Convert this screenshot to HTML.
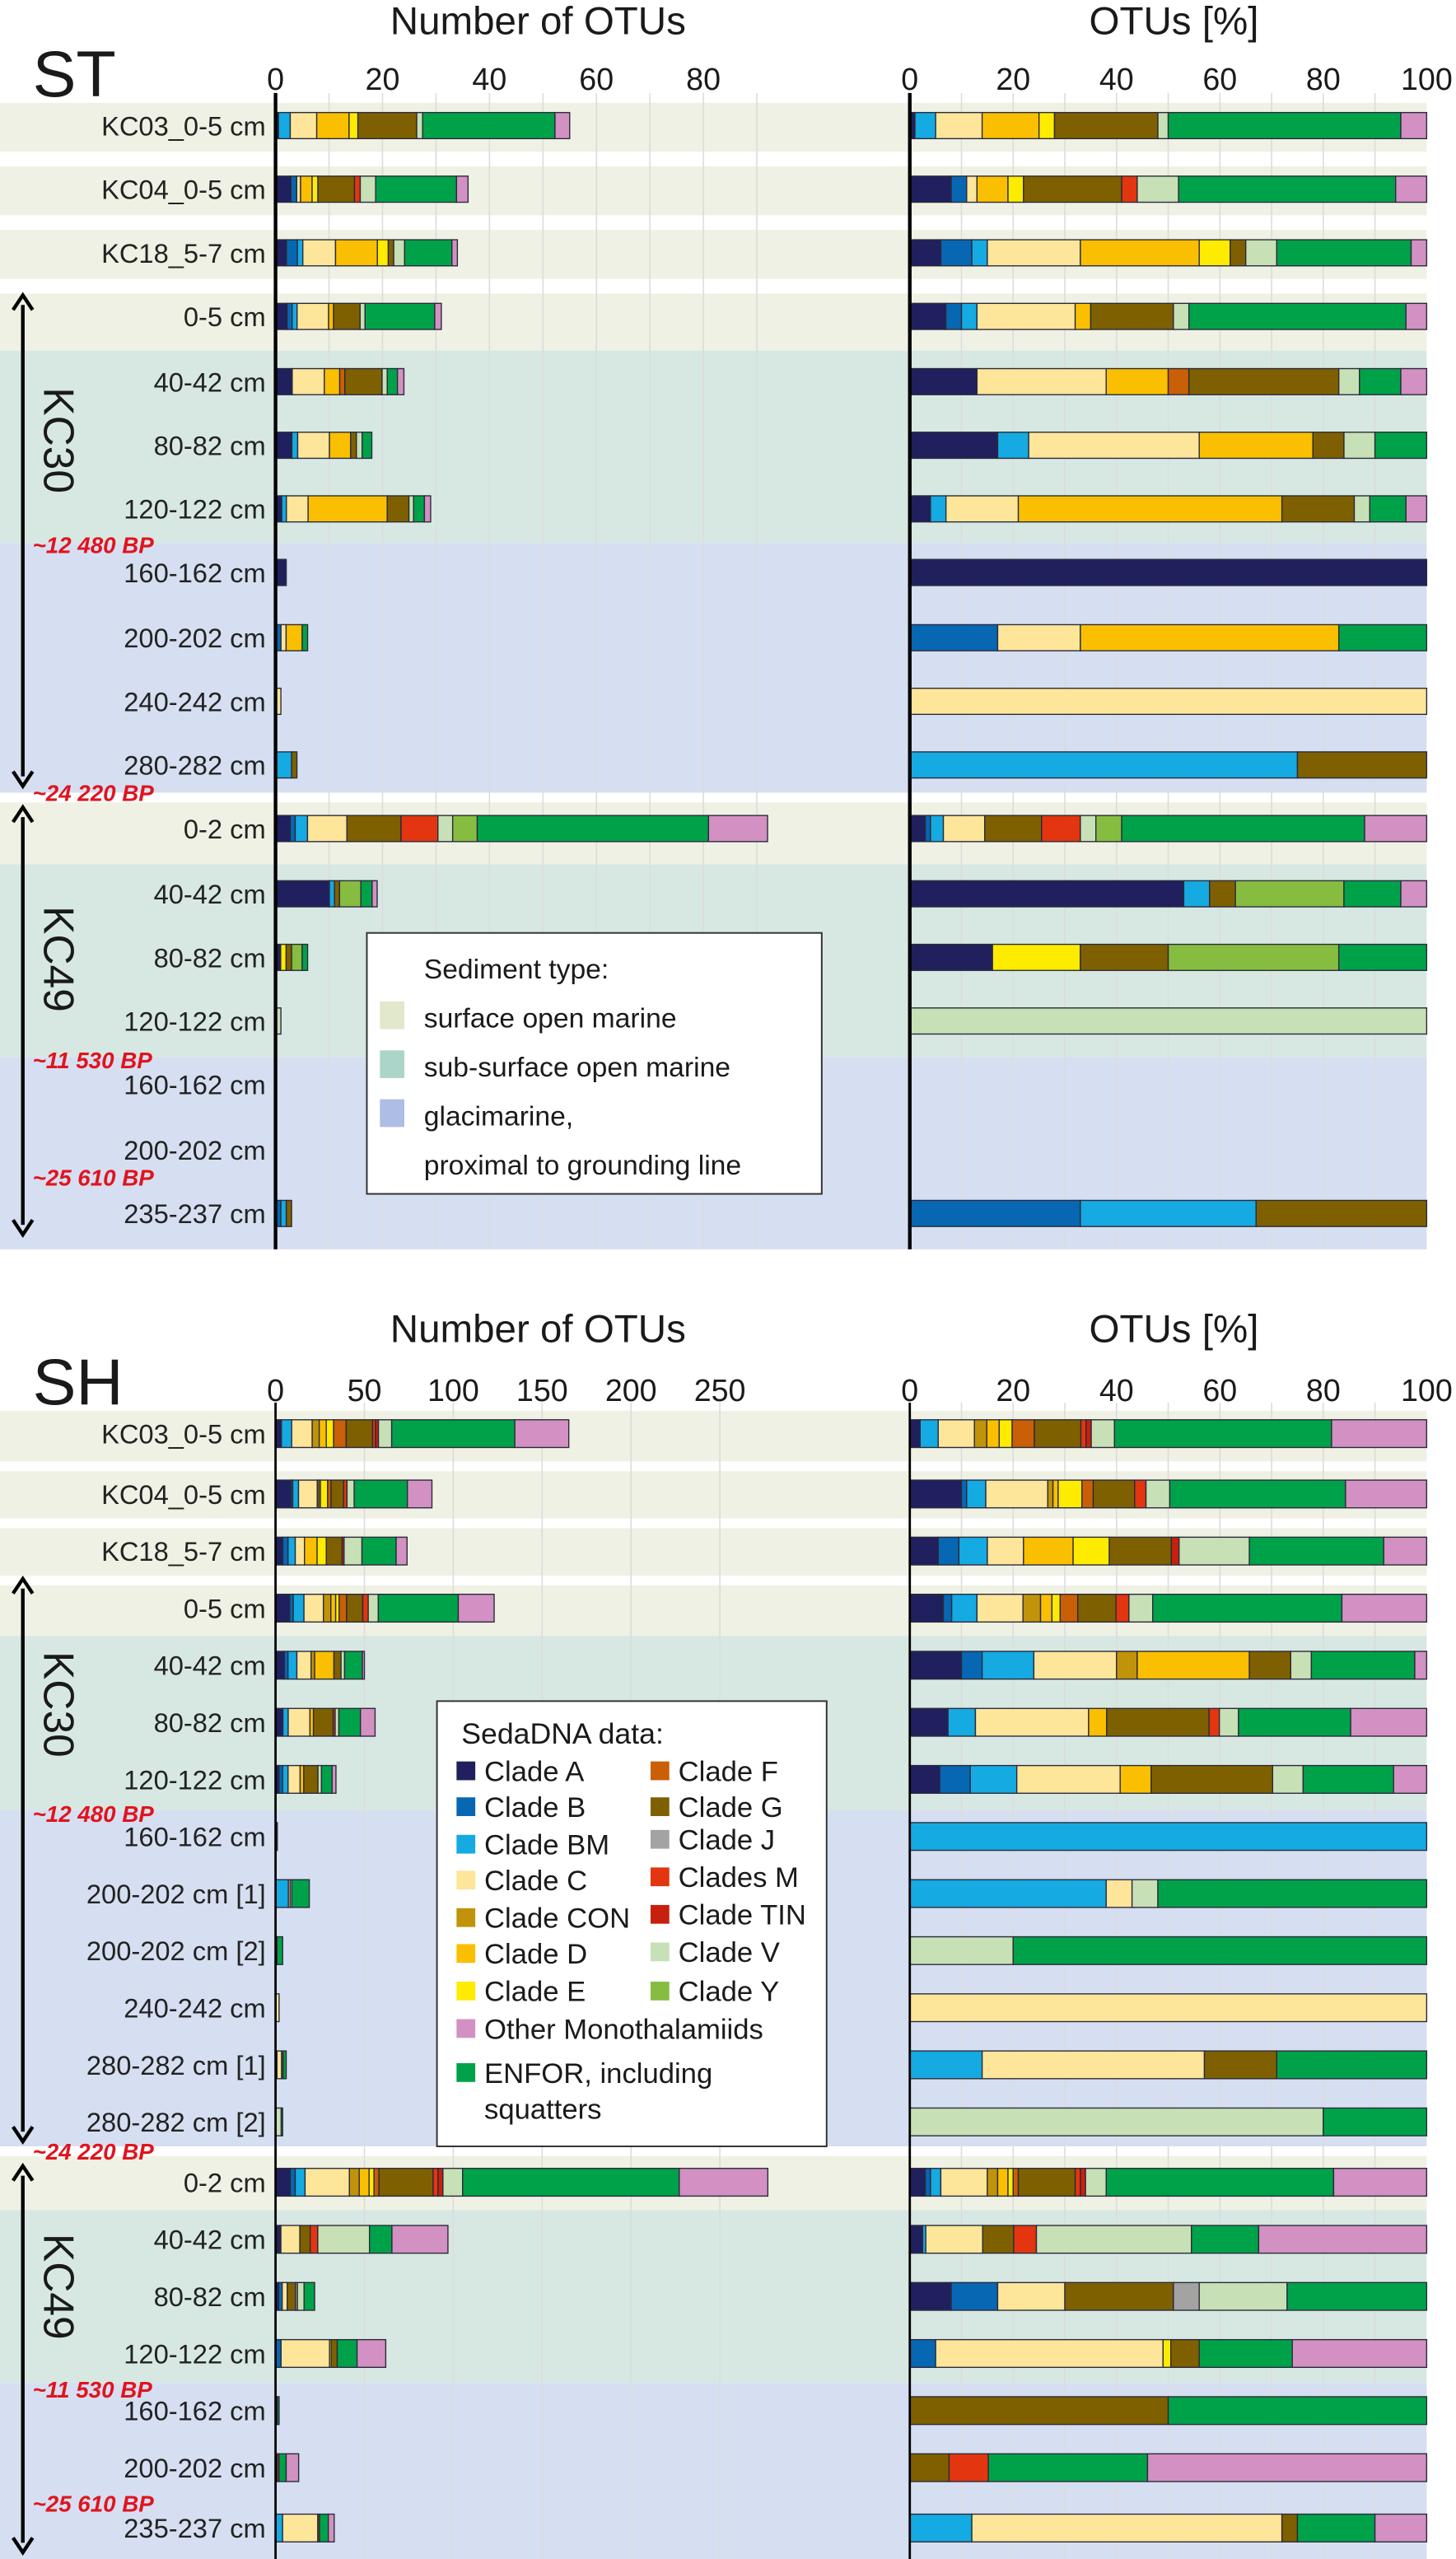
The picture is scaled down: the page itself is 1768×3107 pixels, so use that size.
<!DOCTYPE html>
<html><head><meta charset="utf-8"><style>
html,body{margin:0;padding:0;background:#fff;}
svg{display:block;font-family:"Liberation Sans",sans-serif;}
</style></head>
<body>
<svg id="fig" xmlns="http://www.w3.org/2000/svg" width="1768" height="3107" viewBox="0 0 893 1569" preserveAspectRatio="none"></svg>
<script>
// ---------- data ----------
const cladeKeys = ['A','B','BM','C','CON','D','E','F','G','J','M','TIN','V','Y','ENFOR','OTH'];
const cladeColors = {A:'#20205e',B:'#0767b2',BM:'#15aae2',C:'#fde59a',CON:'#c1930a',D:'#fabf00',E:'#fdeb00',F:'#c95f06',G:'#7f6000',J:'#a3a3a3',M:'#e3350f',TIN:'#c8200e',V:'#c7e0b6',Y:'#86bd40',ENFOR:'#00a249',OTH:'#d291c2'};

const stLabels = ['KC03_0-5 cm','KC04_0-5 cm','KC18_5-7 cm','0-5 cm','40-42 cm','80-82 cm','120-122 cm','160-162 cm','200-202 cm','240-242 cm','280-282 cm','0-2 cm','40-42 cm','80-82 cm','120-122 cm','160-162 cm','200-202 cm','235-237 cm'];
const stTotals = [55,36,34,31,24,18,29,2,6,1,4,92,19,6,1,0,0,3];
const stPercents = [
 [['A',1],['BM',4],['C',9],['D',11],['E',3],['G',20],['V',2],['ENFOR',45],['OTH',5]],
 [['A',8],['B',3],['C',2],['D',6],['E',3],['G',19],['M',3],['V',8],['ENFOR',42],['OTH',6]],
 [['A',6],['B',6],['BM',3],['C',18],['D',23],['E',6],['G',3],['V',6],['ENFOR',26],['OTH',3]],
 [['A',7],['B',3],['BM',3],['C',19],['D',3],['G',16],['V',3],['ENFOR',42],['OTH',4]],
 [['A',13],['C',25],['D',12],['F',4],['G',29],['V',4],['ENFOR',8],['OTH',5]],
 [['A',17],['BM',6],['C',33],['D',22],['G',6],['V',6],['ENFOR',10]],
 [['A',4],['BM',3],['C',14],['D',51],['G',14],['V',3],['ENFOR',7],['OTH',4]],
 [['A',100]],
 [['B',17],['C',16],['D',50],['ENFOR',17]],
 [['C',100]],
 [['BM',75],['G',25]],
 [['A',3],['B',1],['BM',2.5],['C',8],['G',11],['M',7.5],['V',3],['Y',5],['ENFOR',47],['OTH',12]],
 [['A',53],['BM',5],['G',5],['Y',21],['ENFOR',11],['OTH',5]],
 [['A',16],['E',17],['G',17],['Y',33],['ENFOR',17]],
 [['V',100]],
 [],
 [],
 [['B',33],['BM',34],['G',33]]
];

const shLabels = ['KC03_0-5 cm','KC04_0-5 cm','KC18_5-7 cm','0-5 cm','40-42 cm','80-82 cm','120-122 cm','160-162 cm','200-202 cm [1]','200-202 cm [2]','240-242 cm','280-282 cm [1]','280-282 cm [2]','0-2 cm','40-42 cm','80-82 cm','120-122 cm','160-162 cm','200-202 cm','235-237 cm'];
const shTotals = [165,88,74,123,50,56,34,1,19,4,2,6,4,277,97,22,62,2,13,33];
const shPercents = [
 [['A',2],['BM',3.5],['C',7],['CON',2.4],['D',2.4],['E',2.5],['F',4.3],['G',9],['M',1],['TIN',1],['V',4.5],['ENFOR',42],['OTH',18.4]],
 [['A',10],['B',1],['BM',3.7],['C',12],['CON',1],['D',1],['E',4.6],['F',2.2],['G',8],['M',2.2],['V',4.6],['ENFOR',34],['OTH',15.7]],
 [['A',5.5],['B',4],['BM',5.5],['C',7],['D',9.6],['E',7],['G',12],['TIN',1.5],['V',13.6],['ENFOR',26],['OTH',8.3]],
 [['A',6.5],['B',1.6],['BM',4.9],['C',8.9],['CON',3.4],['D',2.2],['E',1.6],['F',3.4],['G',7.4],['M',2.5],['V',4.6],['ENFOR',36.6],['OTH',16.4]],
 [['A',10],['B',4],['BM',10],['C',16],['CON',4],['D',21.7],['G',8],['V',4],['ENFOR',20],['OTH',2.3]],
 [['A',7.4],['BM',5.3],['C',21.9],['D',3.5],['G',19.8],['M',2],['V',3.7],['ENFOR',21.7],['OTH',14.7]],
 [['A',5.8],['B',5.9],['BM',9],['C',20],['D',6],['G',23.5],['V',5.9],['ENFOR',17.5],['OTH',6.4]],
 [['BM',100]],
 [['BM',38],['C',5],['V',5],['ENFOR',52]],
 [['V',20],['ENFOR',80]],
 [['C',100]],
 [['BM',14],['C',43],['G',14],['ENFOR',29]],
 [['V',80],['ENFOR',20]],
 [['A',3],['B',1],['BM',2],['C',9],['CON',2],['D',2],['E',1],['F',1],['G',11],['M',1],['TIN',1],['V',4],['ENFOR',44],['OTH',18]],
 [['A',2.5],['BM',0.6],['C',11],['G',6],['M',4.4],['V',30],['ENFOR',13],['OTH',32.5]],
 [['A',8],['B',9],['C',13],['G',21],['J',5],['V',17],['ENFOR',27]],
 [['B',5],['C',44],['E',1.5],['G',5.5],['ENFOR',18],['OTH',26]],
 [['G',50],['ENFOR',50]],
 [['G',7.6],['M',7.6],['ENFOR',30.8],['OTH',54]],
 [['BM',12],['C',60],['G',3],['ENFOR',15],['OTH',10]]
];
const stCountTicks = [0,20,40,60,80];
const shCountTicks = [0,50,100,150,200,250];
const pctTicks = [0,20,40,60,80,100];

// ---------- layout ----------
const NS='http://www.w3.org/2000/svg';
const svg=document.getElementById('fig');
function el(tag,attrs,parent){const e=document.createElementNS(NS,tag);for(const k in attrs)e.setAttribute(k,attrs[k]);(parent||svg).appendChild(e);return e;}
function txt(s,attrs,parent){const e=el('text',attrs,parent);e.textContent=s;return e;}

const X0=169, P0=558, P100=875;
const stYs=[77,116,155,194,234,273,312,351,391,430,469,508,548,587,626,665,705,744];
const shYs=[879,916,951,986,1021,1056,1091,1126,1161,1196,1231,1266,1301,1338,1373,1408,1443,1478,1513,1550];

function panel(p){
  const g=el('g',{});
  
  
  const cx=v=>X0+v*p.scale;
  const px=v=>P0+v*(P100-P0)/100;
  p.bands.forEach(b=>{
    const r=el('rect',{x:0,y:b[0],width:P100,height:b[1]-b[0],fill:b[2]},g);
    
    
  });
  for(let v=p.gridStep;v<=p.gridMax;v+=p.gridStep){
    const l=el('line',{x1:cx(v),x2:cx(v),y1:p.axTop,y2:p.axBot,stroke:'#dcdcdc','stroke-width':0.8},g);
    
    
  }
  for(let v=10;v<100;v+=10){
    const l=el('line',{x1:px(v),x2:px(v),y1:p.axTop,y2:p.axBot,stroke:'#dcdcdc','stroke-width':0.8},g);
    
    
  }
  const t1=txt('Number of OTUs',{x:330,y:p.titleY,'font-size':24,'text-anchor':'middle',fill:'#1a1a1a'},g);
  
  
  const t2=txt('OTUs [%]',{x:720,y:p.titleY,'font-size':24,'text-anchor':'middle',fill:'#1a1a1a'},g);
  
  
  const t3=txt(p.name.toUpperCase(),{x:20,y:p.titleY+38,'font-size':40,fill:'#1a1a1a'},g);
  
  
  p.countTicks.forEach(v=>{
    const t=txt(String(v),{x:cx(v),y:p.tickY,'font-size':19,'text-anchor':'middle',fill:'#1a1a1a'},g);
    
    
  });
  pctTicks.forEach(v=>{
    const t=txt(String(v),{x:px(v),y:p.tickY,'font-size':19,'text-anchor':'middle',fill:'#1a1a1a'},g);
    
    
  });
  const bh=p.barH;
  p.labels.forEach((lab,i)=>{
    const y=p.ys[i];
    const t=txt(lab,{x:163,y:y+6,'font-size':16.5,'text-anchor':'end',fill:'#222'},g);
    
    
    const segs=p.percents[i];
    const sum=segs.reduce((a,s)=>a+s[1],0)||1;
    let acc=0;
    segs.forEach(s=>{
      const f0=acc/sum, f1=(acc+s[1])/sum; acc+=s[1];
      const c=cladeColors[s[0]];
      const r1=el('rect',{x:cx(p.totals[i]*f0),y:y-bh/2,width:Math.max(0,cx(p.totals[i]*f1)-cx(p.totals[i]*f0)),height:bh,fill:c,stroke:'#2a2a3a','stroke-width':0.7},g);
      
      
      const r2=el('rect',{x:px(100*f0),y:y-bh/2,width:px(100*f1)-px(100*f0),height:bh,fill:c,stroke:'#2a2a3a','stroke-width':0.7},g);
      
      
    });
  });
  const a1=el('line',{x1:X0,x2:X0,y1:p.axTop,y2:p.axBot,stroke:'#000','stroke-width':p.axW},g);
  
  
  const a2=el('line',{x1:P0,x2:P0,y1:p.axTop,y2:p.axBot,stroke:'#000','stroke-width':p.axW},g);
  
  
  p.cores.forEach(c=>{
    const ln=el('line',{x1:14,x2:14,y1:c.y1+6,y2:c.y2-6,stroke:'#000','stroke-width':2.2},g);
    
    
    const h1=el('path',{d:`M8,${c.y1+9} L14,${c.y1} L20,${c.y1+9}`,fill:'none',stroke:'#000','stroke-width':2.2},g);
    
    
    const h2=el('path',{d:`M8,${c.y2-9} L14,${c.y2} L20,${c.y2-9}`,fill:'none',stroke:'#000','stroke-width':2.2},g);
    
    
    const ct=txt(c.name,{x:0,y:0,'font-size':26,fill:'#1a1a1a','text-anchor':'middle',transform:`translate(27,${c.ly}) rotate(90)`},g);
    
    
    c.bp.forEach(b=>{
      const bt=txt(b[0],{x:20,y:b[1],'font-size':14,'font-weight':'bold','font-style':'italic',fill:'#e0141e'},g);
      
      
    });
  });
  return g;
}

const BE='#eff1e4', TE='#d7e8e3', BL='#d6dff1';
panel({name:'st',scale:3.28,gridStep:10,gridMax:90,axTop:57,axBot:766,axW:2.2,titleY:21,tickY:55,barH:16,
  labels:stLabels,totals:stTotals,percents:stPercents,ys:stYs,countTicks:stCountTicks,
  bands:[[63,93,BE],[102,132,BE],[141,171,BE],[180,215,BE],[215,333,TE],[333,486,BL],[492,530,BE],[530,648,TE],[648,766,BL]],
  cores:[{name:'KC30',y1:181,y2:482,ly:270,bp:[['~12 480 BP',339],['~24 220 BP',491]]},
         {name:'KC49',y1:495,y2:757,ly:588,bp:[['~11 530 BP',655],['~25 610 BP',727]]}]});
panel({name:'sh',scale:1.09,gridStep:50,gridMax:250,axTop:860,axBot:1569,axW:1.4,titleY:823,tickY:859,barH:17,
  labels:shLabels,totals:shTotals,percents:shPercents,ys:shYs,countTicks:shCountTicks,
  bands:[[865,896,BE],[902,931,BE],[937,966,BE],[972,1003,BE],[1003,1110,TE],[1110,1316,BL],[1322,1355,BE],[1355,1461,TE],[1461,1569,BL]],
  cores:[{name:'KC30',y1:968,y2:1313,ly:1045,bp:[['~12 480 BP',1117],['~24 220 BP',1324]]},
         {name:'KC49',y1:1328,y2:1565,ly:1402,bp:[['~11 530 BP',1470],['~25 610 BP',1540]]}]});

// ---------- legends ----------
const sedLegend=el('g',{});


el('rect',{x:225,y:572,width:279,height:160,fill:'#fff',stroke:'#333','stroke-width':1},sedLegend);
txt('Sediment type:',{x:260,y:600,'font-size':17,fill:'#1a1a1a'},sedLegend);
const sedItems=[['surface open marine','#e1e8cb',630],['sub-surface open marine','#acd5c9',660],['glacimarine,','#aebde6',690]];
sedItems.forEach(s=>{
  const r=el('rect',{x:233,y:s[2]-16,width:15,height:17,fill:s[1]},sedLegend);
  
  
  const t=txt(s[0],{x:260,y:s[2],'font-size':17,fill:'#1a1a1a'},sedLegend);
  
  
});
txt('proximal to grounding line',{x:260,y:720,'font-size':17,fill:'#1a1a1a'},sedLegend);

const cladeLegend=el('g',{});


el('rect',{x:268,y:1043,width:239,height:273,fill:'#fff',stroke:'#333','stroke-width':1},cladeLegend);
txt('SedaDNA data:',{x:283,y:1069,'font-size':18,fill:'#1a1a1a'},cladeLegend);
const legItems=[
 ['A','Clade A',280,1092],['B','Clade B',280,1114],['BM','Clade BM',280,1137],['C','Clade C',280,1159],['CON','Clade CON',280,1182],['D','Clade D',280,1204],['E','Clade E',280,1227],
 ['F','Clade F',399,1092],['G','Clade G',399,1114],['J','Clade J',399,1134],['M','Clades M',399,1157],['TIN','Clade TIN',399,1180],['V','Clade V',399,1203],['Y','Clade Y',399,1227],
 ['OTH','Other Monothalamiids',280,1250],['ENFOR','ENFOR, including',280,1277]];
legItems.forEach(it=>{
  const r=el('rect',{x:it[2],y:it[3]-12,width:11.5,height:11.5,fill:cladeColors[it[0]]},cladeLegend);
  
  
  const t=txt(it[1],{x:it[2]+17,y:it[3],'font-size':17.5,fill:'#1a1a1a'},cladeLegend);
  
  
});
txt('squatters',{x:297,y:1299,'font-size':17.5,fill:'#1a1a1a'},cladeLegend);
</script>
</body></html>
